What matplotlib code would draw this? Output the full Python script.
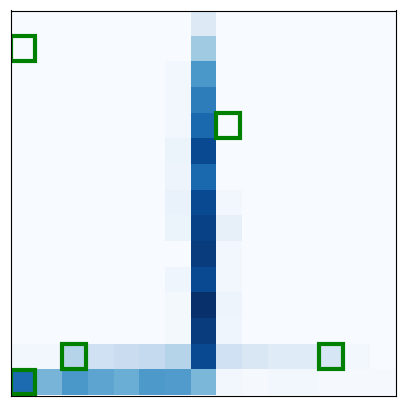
import numpy as np
import matplotlib
matplotlib.use("Agg")
import matplotlib.pyplot as plt
from matplotlib.patches import Rectangle

n = 15

# main vertical column (col 7), top to bottom
col7 = [0.13, 0.37, 0.60, 0.70, 0.78, 0.90, 0.78, 0.90, 0.93, 0.95, 0.90, 1.00, 0.95, 0.90, 0.46]
# faint neighbour columns
col6 = [0.0, 0.0, 0.03, 0.03, 0.03, 0.06, 0.05, 0.07, 0.06, 0.0, 0.04, 0.02, 0.02, 0.30, 0.58]
col8 = [0.0, 0.0, 0.0, 0.0, 0.0, 0.0, 0.0, 0.03, 0.08, 0.03, 0.03, 0.05, 0.04, 0.20, 0.03]
# bottom two rows, left to right
row13 = [0.03, 0.03, 0.30, 0.20, 0.23, 0.25, 0.30, 0.90, 0.20, 0.15, 0.12, 0.12, 0.16, 0.03, 0.0]
row14 = [0.77, 0.47, 0.60, 0.54, 0.50, 0.59, 0.58, 0.46, 0.03, 0.01, 0.03, 0.03, 0.01, 0.01, 0.01]

# highlighted cells (row, col)
marked = [(1, 0), (4, 8), (13, 2), (13, 12), (14, 0)]

grid = np.zeros((n, n))
grid[:, 6] = col6
grid[:, 7] = col7
grid[:, 8] = col8
grid[13, :] = row13
grid[14, :] = row14

fig = plt.figure(figsize=(4.05, 4.05), dpi=100)
ax = fig.add_axes([10.5 / 405, 9.5 / 405, 385 / 405, 385 / 405])
ax.imshow(grid, cmap='Blues', vmin=0, vmax=1, interpolation='nearest', aspect='auto')

for r, c in marked:
    ax.add_patch(Rectangle((c - 0.5, r - 0.5), 0.95, 0.95, fill=False,
                           edgecolor='green', lw=3))

ax.set_xticks([])
ax.set_yticks([])
fig.savefig('out.png', dpi=100)
